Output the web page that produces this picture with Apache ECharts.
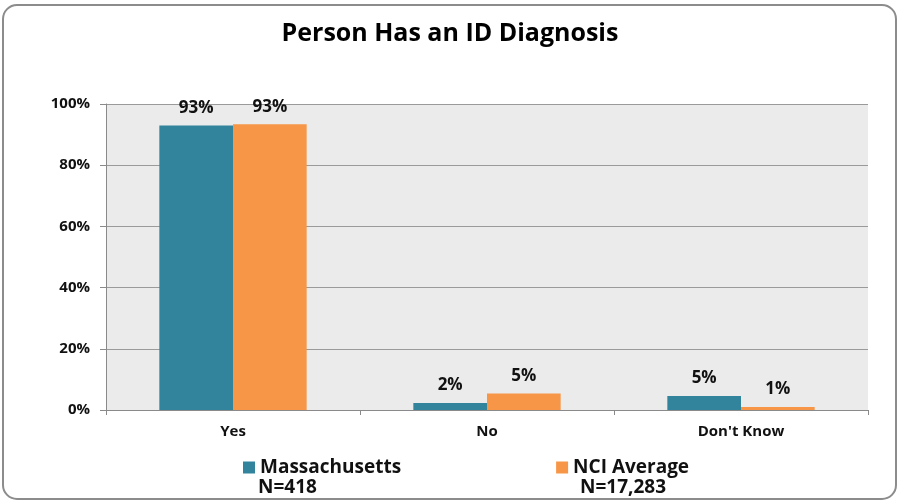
<!DOCTYPE html>
<html>
<head>
<meta charset="utf-8">
<script src="https://cdn.jsdelivr.net/npm/echarts@6/dist/echarts.min.js"></script>
<style>
  html, body { margin: 0; padding: 0; background: #fff; }
  #chart { width: 900px; height: 502px; }
</style>
</head>
<body>
<div id="chart"></div>
<script>
  // values (percent)
  var categories = ['Yes', 'No', "Don't Know"];
  var massValues = [93.0, 2.3, 4.6];
  var nciValues = [93.4, 5.4, 1.0];
  var seriesNames = ['Massachusetts', 'NCI Average'];
  var sampleSizes = ['N=418', 'N=17,283'];
  var yTicks = [0, 20, 40, 60, 80, 100];

  var font = '"Open Sans", "Noto Sans", sans-serif';
  var colors = ['#31849b', '#f79646'];

  var chart = echarts.init(document.getElementById('chart'));

  function barSeries(name, data) {
    return {
      name: name,
      type: 'bar',
      data: data,
      barGap: 0,
      barCategoryGap: '42%',
      label: {
        show: true,
        position: 'top',
        distance: 9,
        formatter: function (p) { return Math.round(p.value) + '%'; },
        color: '#111',
        fontFamily: font,
        fontWeight: 'bold',
        fontSize: 17
      }
    };
  }

  chart.setOption({
    animation: false,
    color: colors,
    title: {
      text: 'Person Has an ID Diagnosis',
      left: 'center',
      top: 16,
      textStyle: { fontFamily: font, fontWeight: 'bold', fontSize: 25, color: '#000' }
    },
    grid: {
      left: 106, right: 32, top: 104, bottom: 92,
      show: true, backgroundColor: '#ebebeb', borderWidth: 0
    },
    legend: {
      data: seriesNames,
      left: 238,
      top: 453,
      icon: 'rect',
      itemWidth: 12,
      itemHeight: 12,
      itemGap: 155,
      textStyle: { fontFamily: font, fontWeight: 'bold', fontSize: 19, color: '#111' }
    },
    graphic: [
      {
        type: 'rect',
        shape: { x: 3, y: 5, width: 893, height: 494, r: 14 },
        style: { fill: 'none', stroke: '#8c8c8c', lineWidth: 2 },
        silent: true
      },
      {
        type: 'text', left: 258, top: 478,
        style: { text: sampleSizes[0], fontFamily: font, fontWeight: 'bold', fontSize: 19, fill: '#111' }
      },
      {
        type: 'text', left: 580, top: 478,
        style: { text: sampleSizes[1], fontFamily: font, fontWeight: 'bold', fontSize: 19, fill: '#111' }
      }
    ],
    xAxis: {
      type: 'category',
      data: categories,
      axisLine: { lineStyle: { color: '#8a8a8a' } },
      axisTick: { show: true, length: 5, lineStyle: { color: '#8a8a8a' } },
      axisLabel: { margin: 14, fontFamily: font, fontWeight: 'bold', fontSize: 15, color: '#111' }
    },
    yAxis: {
      type: 'value',
      min: yTicks[0],
      max: yTicks[yTicks.length - 1],
      interval: 20,
      axisLine: { show: true, lineStyle: { color: '#8a8a8a' } },
      axisTick: { show: true, length: 6, lineStyle: { color: '#8a8a8a' } },
      splitLine: { lineStyle: { color: '#9a9a9a' } },
      axisLabel: {
        margin: 16,
        formatter: '{value}%',
        fontFamily: font, fontWeight: 'bold', fontSize: 15, color: '#111'
      }
    },
    series: [
      barSeries(seriesNames[0], massValues),
      barSeries(seriesNames[1], nciValues)
    ]
  });
</script>
</body>
</html>
